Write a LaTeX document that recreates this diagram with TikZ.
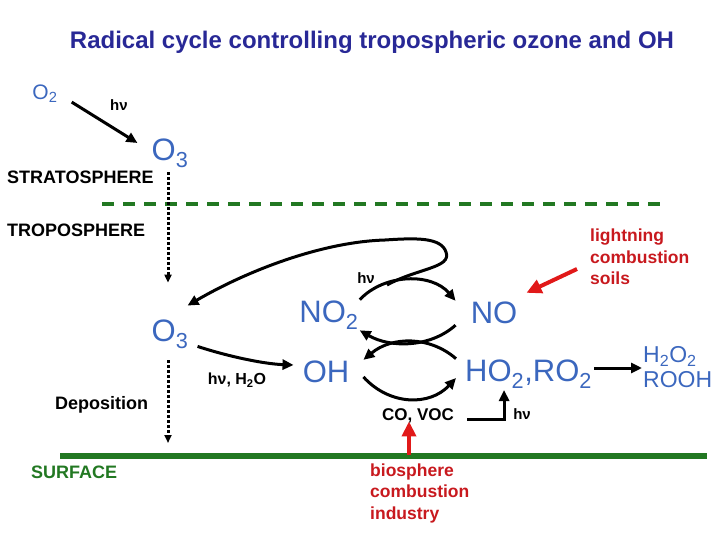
\documentclass[tikz,border=0pt]{standalone}
\usepackage{fontspec}
\setmainfont{Liberation Sans}
\usetikzlibrary{arrows.meta}
\definecolor{spblue}{RGB}{59,103,190}
\definecolor{ttlblue}{RGB}{40,40,150}
\definecolor{grn}{RGB}{34,120,34}
\definecolor{rd}{RGB}{225,25,25}
\definecolor{rdtxt}{RGB}{200,25,30}
\begin{document}
\begin{tikzpicture}[x=1pt,y=-1pt,
 sp/.style={text=spblue,font=\fontsize{31}{35}\selectfont,inner sep=1pt},
 lbl/.style={font=\bfseries\fontsize{18}{22}\selectfont,inner sep=0pt},
 redlbl/.style={font=\bfseries\fontsize{17.5}{21.5}\selectfont,inner sep=0pt,text=rdtxt,anchor=west,align=left},
 hvl/.style={font=\bfseries\fontsize{15}{18}\selectfont,inner sep=0pt},
 arr/.style={line width=3pt,-{Triangle[length=11pt,width=10pt]}},
 dotarr/.style={line width=3pt,dash pattern=on 3pt off 2pt,-{Triangle[length=8pt,width=7pt]}},
 redarr/.style={line width=4pt,rd,-{Triangle[length=15pt,width=14pt]}},
]
\useasboundingbox (0,0) rectangle (720,540);
% texts
\node[font=\bfseries\fontsize{24}{28}\selectfont,text=ttlblue] (title) at (372,42) {Radical cycle controlling tropospheric ozone and OH};
\node[sp,font=\fontsize{21}{25}\selectfont] (o2top) at (45,94) {O\textsubscript{2}};
\node[hvl] (hv1) at (119,105) {hν};
\node[sp] (o3top) at (170,153) {O\textsubscript{3}};
\node[lbl,anchor=west] (strat) at (7,177) {STRATOSPHERE};
\node[lbl,anchor=west] (tropo) at (7,230) {TROPOSPHERE};
\node[sp] (o3low) at (170,334) {O\textsubscript{3}};
\node[lbl,anchor=west] (dep) at (55,405) {Deposition};
\node[lbl,anchor=west,text=grn] (surf) at (31,472) {SURFACE};
\node[sp] (no2) at (329,315) {NO\textsubscript{2}};
\node[sp] (oh) at (326,372) {OH};
\node[sp] (no) at (494,313) {NO};
\node[sp,anchor=west] (ho2) at (464,374) {HO\textsubscript{2},RO\textsubscript{2}};
\node[sp,font=\fontsize{23}{25}\selectfont,anchor=west,align=left] (h2o2) at (642,367) {H\textsubscript{2}O\textsubscript{2}\\ROOH};
\node[hvl] (hv2) at (366,278) {hν};
\node[hvl,font=\bfseries\fontsize{16}{19}\selectfont] (hvh2o) at (237,380) {hν, H\textsubscript{2}O};
\node[lbl,font=\bfseries\fontsize{17}{21}\selectfont] (covoc) at (418,416) {CO, VOC};
\node[hvl] (hv3) at (522,414) {hν};
\node[redlbl] (light) at (590,257) {lightning\\combustion\\soils};
\node[redlbl] (bio) at (370,493) {biosphere\\combustion\\industry};
% boundaries
\draw[grn,line width=4pt,dash pattern=on 12pt off 9pt] (102,204) -- (666,204);
\draw[grn,line width=6pt] (60,456) -- (707,456);
% connectors
\draw[arr] ([shift={(13,-2)}]o2top.south east) -- ([shift={(-13,-10)}]o3top.west);
\draw[dotarr] ([xshift=-2pt,yshift=-4pt]o3top.south) -- ([xshift=-2pt,yshift=36pt]o3low.north);
\coordinate (depend) at (168,443);
\draw[dotarr] ([xshift=-2pt,yshift=-11pt]o3low.south) -- (depend);
\coordinate (ls) at (387,285);
\draw[arr] (ls) .. controls (418,268) and (452,268) .. (446,252) .. controls (441,237) and (415,238) .. (385,240) .. controls (320,242) and (245,272) .. ([shift={(-2,-13)}]o3low.north east);
\draw[arr] (no2.north east) .. controls (385,273) and (432,273) .. ([xshift=-14pt]no.north west);
\draw[arr] ([xshift=-14pt]no.south west) .. controls (430,348) and (390,348) .. (no2.south east);
\draw[arr] ([xshift=-8pt]ho2.north west) .. controls (430,336) and (392,336) .. ([xshift=13pt]oh.north east);
\draw[arr] ([xshift=13pt,yshift=-5pt]oh.east) .. controls (390,406) and (430,406) .. ([xshift=-8pt,yshift=-4pt]ho2.west);
\draw[arr] ([shift={(8,-3)}]o3low.south east) .. controls (230,357) and (265,364) .. ([shift={(-8,-7)}]oh.west);
\draw[arr] ([xshift=1pt,yshift=6pt]ho2.east) -- ([yshift=6pt]ho2.east -| h2o2.west);
\draw[arr] ([xshift=13pt,yshift=-3pt]covoc.east) -| ([xshift=50pt,yshift=26pt]covoc.east);
\draw[redarr] ([shift={(-13,12)}]light.west) -- ([shift={(8,-8)}]no.north east);
\draw[redarr] ([xshift=39pt,yshift=8pt]bio.north west) -- ([xshift=-9pt,yshift=2pt]covoc.south);
\end{tikzpicture}
\end{document}
